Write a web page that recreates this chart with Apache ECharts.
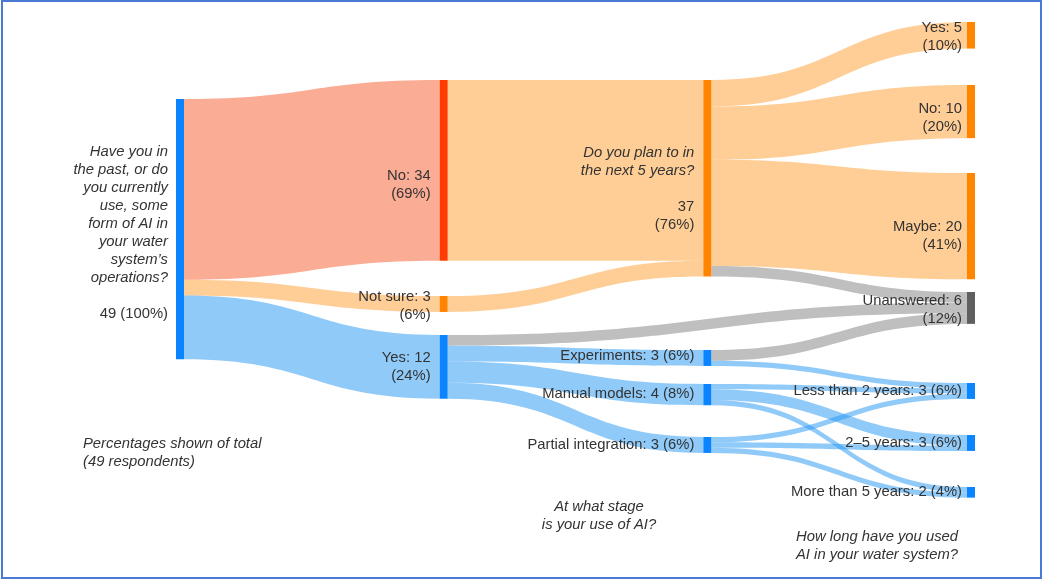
<!DOCTYPE html>
<html>
<head>
<meta charset="utf-8">
<script src="https://cdn.jsdelivr.net/npm/echarts@6/dist/echarts.min.js"></script>
<style>
  html, body { margin: 0; padding: 0; background: #fff; }
  #chart { position: absolute; left: 0; top: 0; width: 1043px; height: 580px; }
  #frame { position: absolute; left: 1px; top: 0; width: 1041px; height: 579px; box-sizing: border-box; border: 2px solid #4a7bd4; pointer-events: none; }
</style>
</head>
<body>
<div id="chart"></div>
<div id="frame"></div>
<script>
// ---------------- data ----------------
const TOTAL = 49;
const nodeIds = ['root', 'no', 'notSure', 'yes', 'plan', 'experiments', 'manual', 'partial',
  'planYes', 'planNo', 'planMaybe', 'unanswered', 'lt2', 'y2to5', 'gt5'];
const nodeNames = ['', 'No', 'Not sure', 'Yes', '', 'Experiments', 'Manual models', 'Partial integration',
  'Yes', 'No', 'Maybe', 'Unanswered', 'Less than 2 years', '2–5 years', 'More than 5 years'];
const nodeGroups = ['blue', 'red', 'orange', 'blue', 'orange', 'blue', 'blue', 'blue',
  'orange', 'orange', 'orange', 'gray', 'blue', 'blue', 'blue'];
const rootQuestion = ['Have you in', 'the past, or do', 'you currently', 'use, some', 'form of AI in',
  'your water', 'system’s', 'operations?'];
const planQuestion = ['Do you plan to in', 'the next 5 years?'];
const stageQuestion = ['At what stage', 'is your use of AI?'];
const durationQuestion = ['How long have you used', 'AI in your water system?'];
const footnote = ['Percentages shown of total', '(49 respondents)'];

const linkSources = ['root', 'root', 'root', 'no', 'notSure', 'plan', 'plan', 'plan', 'plan',
  'yes', 'yes', 'yes', 'yes', 'experiments', 'experiments', 'manual', 'manual', 'manual',
  'partial', 'partial', 'partial'];
const linkTargets = ['no', 'notSure', 'yes', 'plan', 'plan', 'planYes', 'planNo', 'planMaybe', 'unanswered',
  'unanswered', 'experiments', 'manual', 'partial', 'unanswered', 'lt2', 'lt2', 'y2to5', 'gt5',
  'lt2', 'y2to5', 'gt5'];
const linkValues = [34, 3, 12, 34, 3, 5, 10, 20, 2, 2, 3, 4, 3, 2, 1, 1, 2, 1, 1, 1, 1];

// ---------------- layout / style ----------------
// layout band: node heights scale so that 49 respondents span ~260px
const LAYOUT_TOP = 22;
const LAYOUT_H = 260.3125;
// top edge (px) of each node as placed in the reference
const nodeTopPx = [99, 80, 296, 335, 80, 350, 384, 437, 22, 85, 173, 292, 383, 435, 487];
const labelShift = [4, 15, 1.5, 0, 10.5, -2, -1, 0, 2, 6, 10, 1.5, 0, 0, 0];
const labelGap = [8, 9, 9, 9, 9, 9, 9, 9, 5, 5, 5, 5, 5, 5, 5];
const labelStyle = ['question', 'two', 'two', 'two', 'question', 'one', 'one', 'one',
  'two', 'two', 'two', 'two', 'one', 'one', 'one'];
const nodeColor = { blue: '#0a84ff', red: '#ff3d00', orange: '#ff8400', gray: '#5f5f5f' };
const linkColor = { blue: '#2196f3', red: '#f85a2a', orange: '#ff9d2e', gray: '#7f7f7f' };
const FONT = '"Liberation Sans", Arial, sans-serif';
const FS = 14.8;

// value of each node = max(in, out)
function nodeValue(id) {
  let ins = 0, outs = 0;
  linkTargets.forEach((t, i) => { if (t === id) ins += linkValues[i]; });
  linkSources.forEach((s, i) => { if (s === id) outs += linkValues[i]; });
  return Math.max(ins, outs);
}
function pct(v) { return Math.round(v / TOTAL * 100) + '%'; }

function labelText(i) {
  const v = nodeValue(nodeIds[i]);
  if (nodeIds[i] === 'root') {
    return rootQuestion.map(s => '{q|' + s + '}').join('\n') + '\n{n| }\n{n|' + v + ' (' + pct(v) + ')}';
  }
  if (nodeIds[i] === 'plan') {
    return planQuestion.map(s => '{q|' + s + '}').join('\n') + '\n{n| }\n{n|' + v + '}\n{n|(' + pct(v) + ')}';
  }
  if (labelStyle[i] === 'two') return nodeNames[i] + ': ' + v + '\n(' + pct(v) + ')';
  return nodeNames[i] + ': ' + v + ' (' + pct(v) + ')';
}

const nodes = nodeIds.map((id, i) => ({
  name: id,
  localY: (nodeTopPx[i] - LAYOUT_TOP) / LAYOUT_H,
  itemStyle: { color: nodeColor[nodeGroups[i]], borderWidth: 0 },
  label: {
    formatter: labelText(i),
    distance: labelGap[i],
    offset: [0, labelShift[i]]
  }
}));

const links = linkSources.map((s, i) => {
  const g = nodeGroups[nodeIds.indexOf(linkTargets[i])];
  return {
    source: s, target: linkTargets[i], value: linkValues[i],
    lineStyle: { color: linkColor[g], opacity: 0.5 }
  };
});

function textBlock(lines, x, y, align) {
  return {
    type: 'text', x: x, y: y, silent: true,
    style: {
      text: lines.join('\n'), fill: '#333', fontFamily: FONT, fontSize: FS,
      fontStyle: 'italic', lineHeight: 18, align: align, verticalAlign: 'top'
    }
  };
}

const chart = echarts.init(document.getElementById('chart'), null, { renderer: 'canvas' });
chart.setOption({
  animation: false,
  backgroundColor: '#fff',
  graphic: [
    textBlock(footnote, 83, 435, 'left'),
    textBlock(stageQuestion, 599, 498, 'center'),
    textBlock(durationQuestion, 877, 528, 'center')
  ],
  series: [{
    type: 'sankey',
    left: 176, right: 68, top: LAYOUT_TOP, bottom: 580 - LAYOUT_TOP - LAYOUT_H,
    nodeWidth: 8,
    nodeGap: 0,
    layoutIterations: 0,
    draggable: false,
    emphasis: { disabled: true },
    data: nodes,
    links: links,
    label: {
      show: true, position: 'left', color: '#333', fontFamily: FONT, fontSize: FS, lineHeight: 18,
      rich: {
        q: { fontStyle: 'italic', fontFamily: FONT, fontSize: FS, lineHeight: 18, color: '#333' },
        n: { fontFamily: FONT, fontSize: FS, lineHeight: 18, color: '#333' }
      }
    },
    lineStyle: { curveness: 0.5 }
  }]
});
</script>
</body>
</html>
